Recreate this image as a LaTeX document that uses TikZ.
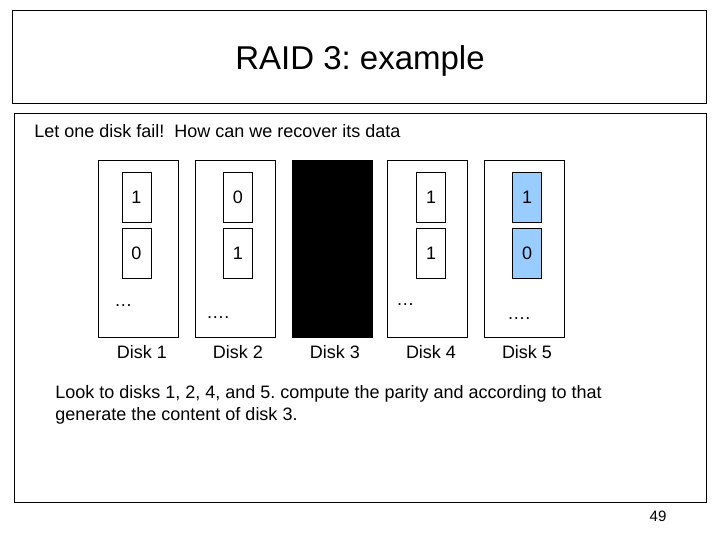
\documentclass[tikz,border=0pt]{standalone}
\usepackage{fontspec}
\setmainfont{Liberation Sans}
\definecolor{parityblue}{RGB}{153,204,255}

\begin{document}
\frenchspacing
\begin{tikzpicture}[x=1pt, y=-1pt, line width=0.75pt,
	every node/.style={font=\fontsize{18}{22}\selectfont, inner sep=0pt},
	disk/.style={draw, minimum width=80pt, minimum height=177pt},
	block/.style={draw, minimum width=29pt, minimum height=50pt},
	disklabel/.style={anchor=base},
	more/.style={anchor=base west}]
	\useasboundingbox (0,0) rectangle (720,540);
	\fill[white] (0,0) rectangle (720,540);
	% frames
	\node[draw, minimum width=694pt, minimum height=93pt] (title) at (359,56.5) {};
	\node[anchor=base, font=\fontsize{33}{40}\selectfont] (heading) at (360,70) {RAID 3: example};
	\node[draw, minimum width=692pt, minimum height=389pt] (body) at (360,307.5) {};
	\node[anchor=base west] (question) at (34,138) {Let one disk fail!\ \ How can we recover its data};
	% disks
	\node[disk] (d1) at (138,248.5) {};
	\node[disk] (d2) at (235.5,248.5) {};
	\node[disk, fill=black] (d3) at (332,248.5) {};
	\node[disk] (d4) at (427.5,248.5) {};
	\node[disk] (d5) at (524,248.5) {};
	% blocks
	\node[block] (b11) at (136.5,197) {1};
	\node[block] (b12) at (136.5,253.5) {0};
	\node[block] (b21) at (238,197) {0};
	\node[block] (b22) at (238,253.5) {1};
	\node[block] (b41) at (431,197) {1};
	\node[block] (b42) at (431,253.5) {1};
	\node[block, fill=parityblue] (b51) at (527,197) {1};
	\node[block, fill=parityblue] (b52) at (527,253.5) {0};
	% rest of each disk
	\node[more] (m1) at (114,306) {\ldots};
	\node[more] (m2) at (206,318) {\ldots.};
	\node[more] (m4) at (396,305) {\ldots};
	\node[more] (m5) at (507,319) {\ldots.};
	% labels
	\node[disklabel] (l1) at (142,358) {Disk 1};
	\node[disklabel] (l2) at (238,358) {Disk 2};
	\node[disklabel] (l3) at (335,358) {Disk 3};
	\node[disklabel] (l4) at (431,358) {Disk 4};
	\node[disklabel] (l5) at (527,358) {Disk 5};
	\node[anchor=base west] (hint1) at (55,398) {Look to disks 1, 2, 4, and 5. compute the parity and according to that};
	\node[anchor=base west] (hint2) at (55,420) {generate the content of disk 3.};
	\node[anchor=base, font=\fontsize{15}{18}\selectfont] (page) at (658,521) {49};
\end{tikzpicture}
\end{document}
